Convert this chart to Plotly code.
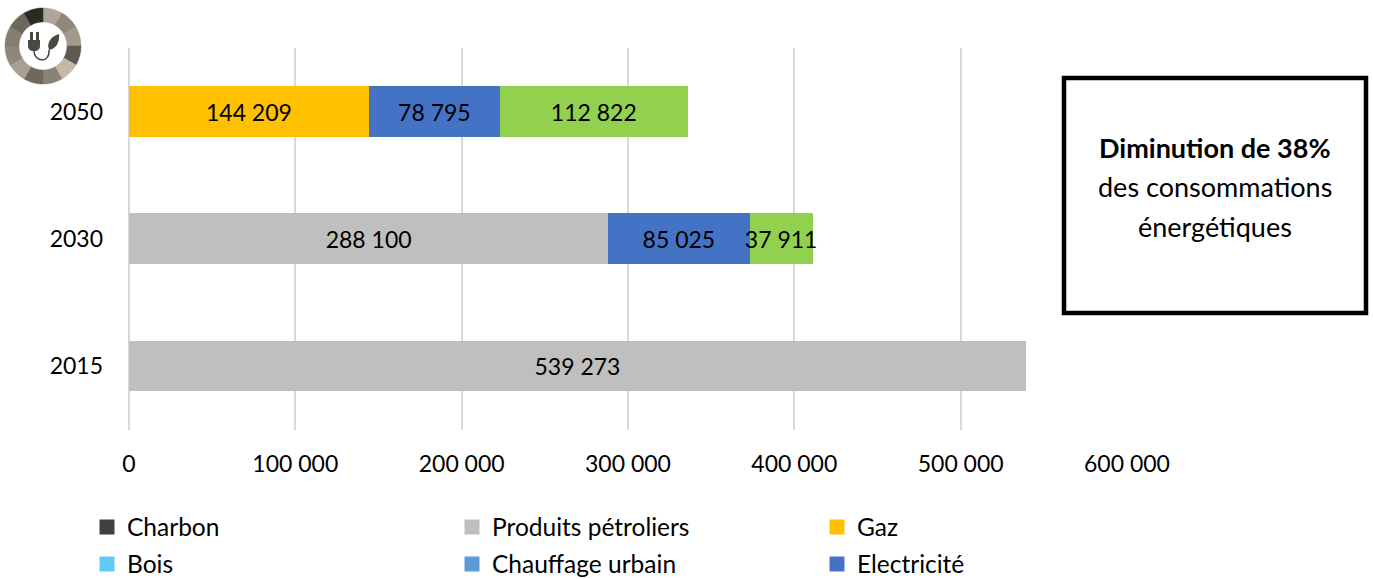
import math
import plotly.graph_objects as go

years = ["2015", "2030", "2050"]
charbon = [None, None, None]
petrole = [539273, 288100, None]
gaz = [None, None, 144209]
bois = [None, None, None]
chauffage = [None, None, None]
electricite = [None, 85025, 78795]
renouvelable = [None, 37911, 112822]
ticks = [0, 100000, 200000, 300000, 400000, 500000, 600000]

series = [
    ("Charbon", charbon, "#404040"),
    ("Produits pétroliers", petrole, "#BFBFBF"),
    ("Gaz", gaz, "#FFC000"),
    ("Bois", bois, "#5FCBF3"),
    ("Chauffage urbain", chauffage, "#5B9BD5"),
    ("Electricité", electricite, "#4472C4"),
    ("Renouvelables", renouvelable, "#92D050"),
]
legend_names = ["Charbon", "Produits pétroliers", "Gaz", "Bois", "Chauffage urbain", "Electricité"]
box_lines = ["<b>Diminution de 38%</b>", "des consommations", "énergétiques"]

W, H = 1373, 579
L, R, T, B = 129, 1127, 48, 430
FONT = "Lato, Carlito, Calibri, sans-serif"
FS = 23


def px(x):
    return (x - L) / (R - L)


def py(y):
    return (B - y) / (B - T)


def pth(cmds):
    out = []
    for c in cmds:
        if isinstance(c, str):
            out.append(c)
        else:
            out.append(f"{px(c[0]):.5f},{py(c[1]):.5f}")
    return " ".join(out)


fig = go.Figure()
for name, vals, col in series:
    fig.add_bar(
        y=years, x=vals, name=name, orientation="h",
        marker=dict(color=col, line=dict(width=0)),
        showlegend=False,
        texttemplate="%{x:,.0f}", textposition="inside",
        insidetextanchor="middle", constraintext="none", textangle=0,
        insidetextfont=dict(color="black", size=FS, family=FONT),
        cliponaxis=False,
    )

# one single-entry legend per swatch, so that each sits on the reference's grid
legends = {}
colors = {n: c for n, _, c in series}
for i, name in enumerate(legend_names):
    key = "legend" if i == 0 else f"legend{i + 1}"
    col_i, row_i = i % 3, i // 3
    fig.add_bar(y=[None], x=[None], name=name, orientation="h", legend=key, showlegend=True,
                marker=dict(color=colors[name], line=dict(width=3, color=colors[name])))
    legends[key] = dict(x=px(87 + 365 * col_i), xanchor="left", y=py(527 + 37 * row_i), yanchor="middle",
                        itemclick=False, font=dict(size=24.5, family=FONT),
                        bgcolor="rgba(0,0,0,0)")

shapes = []
# donut icon
cx, cy, ro, ri = 43, 46, 38, 24
seg_cols = ["#B0A697", "#8F8778", "#A39A8B", "#5E5A50", "#C4B9A6", "#8A8274",
            "#6F695D", "#A89F90", "#8F8778", "#857D70", "#6E685C", "#2B2A26"]
for i, col in enumerate(seg_cols):
    pts = []
    n = 8
    a0, a1 = i * 30, (i + 1) * 30
    for k in range(n + 1):
        a = math.radians(a0 + (a1 - a0) * k / n)
        pts.append((cx + ro * math.sin(a), cy - ro * math.cos(a)))
    for k in range(n, -1, -1):
        a = math.radians(a0 + (a1 - a0) * k / n)
        pts.append((cx + ri * math.sin(a), cy - ri * math.cos(a)))
    cmds = ["M", pts[0]]
    for p in pts[1:]:
        cmds += ["L", p]
    cmds.append("Z")
    shapes.append(dict(type="path", xref="paper", yref="paper", path=pth(cmds),
                       fillcolor=col, line=dict(width=0.5, color=col), layer="above"))

ICON = "#4A4843"
shapes += [
    dict(type="path", xref="paper", yref="paper", fillcolor=ICON, line=dict(width=0), layer="above",
         path=pth(["M", (28, 40), "L", (40, 40), "L", (40, 46), "Q", (40, 50), (36, 51),
                   "L", (32, 51), "Q", (28, 50), (28, 46), "Z"])),
    dict(type="path", xref="paper", yref="paper", fillcolor=ICON, line=dict(width=0), layer="above",
         path=pth(["M", (30, 32), "L", (33, 32), "L", (33, 40), "L", (30, 40), "Z"])),
    dict(type="path", xref="paper", yref="paper", fillcolor=ICON, line=dict(width=0), layer="above",
         path=pth(["M", (36, 32), "L", (39, 32), "L", (39, 40), "L", (36, 40), "Z"])),
    dict(type="path", xref="paper", yref="paper", fillcolor="rgba(0,0,0,0)",
         line=dict(width=1.5, color=ICON), layer="above",
         path=pth(["M", (34, 51), "C", (34, 62), (50, 64), (49, 50)])),
    dict(type="path", xref="paper", yref="paper", fillcolor=ICON, line=dict(width=0), layer="above",
         path=pth(["M", (49, 50), "C", (46, 42), (52, 36), (59, 34), "C", (60, 42), (56, 49), (49, 50), "Z"])),
    dict(type="rect", xref="paper", yref="paper", x0=px(1064), x1=px(1366), y0=py(313), y1=py(78),
         fillcolor="white", line=dict(color="black", width=4.5), layer="above"),
]

fig.update_layout(
    width=W, height=H, autosize=False,
    margin=dict(l=L, r=W - R, t=T, b=H - B, autoexpand=False),
    barmode="stack", bargap=0.605,
    paper_bgcolor="white", plot_bgcolor="white",
    separators=", ",
    font=dict(family=FONT, size=FS, color="black"),
    xaxis=dict(range=[0, 600000], tickmode="array", tickvals=ticks, tickformat=",.0f",
               showgrid=True, gridcolor="#D9D9D9", gridwidth=2, zeroline=True,
               zerolinecolor="#D9D9D9", zerolinewidth=2, showline=False, ticks="",
               ticklabelstandoff=18, tickfont=dict(size=FS, family=FONT)),
    yaxis=dict(type="category", categoryorder="array", categoryarray=years, range=[-0.507, 2.5],
               showgrid=False, showline=False, zeroline=False, ticks="",
               ticklabelstandoff=25, tickfont=dict(size=FS, family=FONT)),
    shapes=shapes,
    annotations=[
        dict(xref="paper", yref="paper", x=px(1215), y=py(147 + 39.5 * i), xanchor="center", yanchor="middle",
             showarrow=False, align="center", font=dict(size=27, family=FONT, color="black"), text=t)
        for i, t in enumerate(box_lines)
    ],
    **legends,
)

fig.write_html("out.html", post_script="document.body.style.margin='0';",
               config=dict(displayModeBar=False))
